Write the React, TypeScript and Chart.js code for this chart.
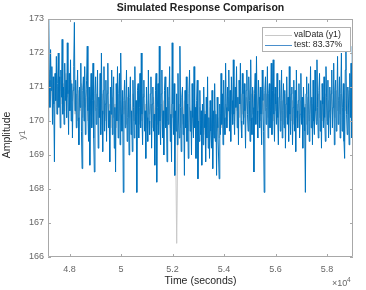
import React, { useEffect, useRef } from "react";
import { Chart, registerables } from "chart.js";

Chart.register(...registerables);

// valData sampled every 50 s, model output every 25 s, both from t = 47160 s
const timeStart = 47160;
const valStep = 50;
const testStep = 25;

const xTickValues = [48000, 50000, 52000, 54000, 56000, 58000];
const xTickLabels = ["4.8", "5", "5.2", "5.4", "5.6", "5.8"];
const yTickValues = [166, 167, 168, 169, 170, 171, 172, 173];

const seriesNames = ["valData (y1)", "test: 83.37%"];

const valData = [
  170.3, 171.5, 170.6, 171.2, 170.4, 170.9, 171.4, 170.2, 171.0, 170.6,
  171.3, 170.5, 171.1, 170.3, 171.4, 170.7, 170.9, 170.4, 171.2, 170.6,
  171.0, 170.2, 170.8, 170.0, 170.9, 170.3, 171.1, 170.1, 170.7, 170.4,
  170.9, 170.0, 170.7, 170.2, 171.0, 169.9, 170.6, 170.3, 170.8, 170.1,
  170.7, 169.9, 170.8, 170.2, 170.6, 170.0, 170.9, 170.3, 170.5, 169.8,
  170.7, 170.1, 170.5, 169.8, 170.8, 170.0, 170.6, 169.9, 170.7, 170.2,
  170.6, 169.9, 170.7, 170.1, 170.5, 169.8, 170.8, 170.0, 170.6, 170.2,
  170.7, 169.9, 170.6, 170.0, 170.8, 170.1, 170.5, 169.8, 170.6, 170.2,
  170.5, 169.8, 170.7, 170.0, 170.4, 169.9, 170.6, 170.1, 170.5, 169.7,
  170.6, 169.9, 170.4, 170.0, 170.7, 169.8, 170.5, 170.1, 170.4, 169.9,
  166.4, 170.0, 170.5, 169.8, 170.4, 169.9, 170.6, 170.0, 170.3, 169.7,
  170.4, 169.8, 170.3, 169.6, 170.5, 169.9, 170.2, 169.7, 170.4, 169.8,
  170.2, 169.6, 170.3, 169.7, 170.1, 169.5, 170.4, 169.8, 170.2, 169.6,
  170.3, 169.7, 170.1, 169.5, 170.2, 169.8, 170.4, 169.9, 170.5, 170.0,
  170.7, 170.1, 170.8, 170.2, 170.6, 170.0, 170.9, 170.3, 170.7, 170.1,
  170.8, 170.2, 170.9, 170.1, 170.7, 170.3, 170.9, 170.0, 170.8, 170.2,
  170.9, 170.1, 170.8, 170.3, 170.7, 170.0, 170.9, 170.2, 170.8, 170.3,
  170.8, 170.1, 170.9, 170.2, 170.7, 170.0, 170.8, 170.3, 170.6, 170.1,
  170.7, 170.0, 170.6, 169.9, 170.8, 170.1, 170.5, 169.9, 170.7, 170.0,
  170.6, 169.9, 170.7, 170.1, 170.5, 169.8, 170.6, 170.0, 170.7, 170.1,
  170.5, 169.9, 170.7, 170.0, 170.6, 170.1, 170.5, 169.8, 170.7, 170.0,
  170.8, 170.1, 170.6, 170.0, 170.7, 170.2, 170.8, 170.0, 170.6, 170.1,
  170.9, 170.2, 170.8, 170.1, 170.9, 170.3, 170.7, 170.2, 170.8, 170.3,
  170.9, 170.3, 171.0, 170.2, 170.9, 170.4, 171.0, 170.5,
];

const testData = [
  170.0, 173.0, 171.2, 170.4, 172.1, 170.9, 171.6, 169.9, 171.3, 170.5,
  168.8, 171.4, 170.6, 171.9, 170.2, 171.1, 172.0, 170.4, 171.3, 169.8,
  171.5, 170.7, 172.4, 170.2, 171.0, 169.9, 171.7, 170.6, 171.2, 170.1,
  172.3, 170.8, 169.6, 171.4, 170.3, 171.8, 170.0, 171.1, 169.5, 170.9,
  171.6, 172.9, 170.3, 171.2, 169.8, 170.8, 171.5, 170.1, 169.3, 171.0,
  170.4, 171.7, 169.7, 168.6, 170.9, 171.3, 170.0, 171.6, 169.6, 170.7,
  171.2, 172.2, 170.3, 169.4, 171.0, 168.7, 170.5, 171.4, 169.8, 170.6,
  171.7, 169.5, 168.5, 170.8, 171.3, 169.9, 170.4, 171.5, 169.2, 170.7,
  170.1, 171.4, 169.6, 172.0, 170.3, 169.1, 170.9, 171.6, 169.7, 170.5,
  171.2, 169.4, 170.8, 171.7, 169.8, 170.3, 168.8, 171.0, 170.2, 171.5,
  169.6, 170.7, 171.3, 169.2, 170.4, 168.5, 171.1, 170.0, 171.6, 169.5,
  170.8, 171.4, 169.3, 172.0, 170.2, 169.7, 170.9, 167.9, 170.6, 171.2,
  169.8, 170.5, 171.5, 169.4, 170.1, 171.0, 169.0, 170.7, 171.3, 169.6,
  170.3, 169.1, 171.2, 170.4, 169.5, 171.6, 169.9, 170.6, 167.9, 170.9,
  171.1, 169.5, 170.4, 171.4, 169.8, 172.0, 170.2, 169.3, 170.7, 171.2,
  169.7, 170.3, 168.9, 171.0, 170.1, 169.4, 171.5, 170.0, 169.6, 170.8,
  171.3, 169.2, 170.5, 171.0, 169.7, 170.2, 168.7, 170.9, 171.4, 168.2,
  170.4, 171.1, 169.6, 172.2, 170.0, 169.3, 170.8, 171.5, 169.5, 170.3,
  169.0, 170.9, 171.3, 169.8, 170.4, 168.8, 171.0, 169.9, 170.6, 171.6,
  169.4, 170.2, 168.8, 172.3, 170.5, 169.6, 171.1, 168.4, 170.3, 169.7,
  170.8, 169.3, 171.4, 170.0, 169.5, 172.2, 170.4, 169.1, 170.7, 171.0,
  169.6, 170.2, 168.4, 170.9, 169.8, 171.3, 169.4, 170.5, 168.9, 170.8,
  171.5, 169.7, 170.3, 169.0, 171.1, 170.1, 169.5, 171.6, 169.8, 170.4,
  168.9, 170.6, 171.2, 168.3, 170.0, 169.4, 170.9, 169.6, 170.3, 168.7,
  170.5, 169.3, 171.0, 169.8, 170.2, 168.8, 170.7, 169.5, 171.3, 169.2,
  170.1, 168.9, 170.6, 169.7, 169.2, 170.9, 168.6, 170.3, 169.5, 171.1,
  169.4, 170.2, 168.4, 170.7, 169.8, 169.0, 168.3, 170.5, 169.6, 171.4,
  169.9, 170.8, 169.3, 171.2, 170.1, 169.6, 171.7, 170.4, 169.8, 171.0,
  170.3, 171.5, 169.7, 170.9, 169.4, 171.3, 170.6, 169.9, 171.8, 170.2,
  169.6, 171.0, 170.4, 171.6, 169.8, 170.7, 169.3, 171.2, 170.5, 171.7,
  170.0, 169.5, 171.4, 170.8, 169.9, 171.1, 170.3, 169.2, 170.9, 171.5,
  170.2, 169.7, 171.3, 170.6, 169.4, 171.8, 170.1, 169.6, 171.0, 170.4,
  168.5, 170.8, 171.4, 169.9, 171.9, 170.3, 169.5, 171.2, 170.7, 169.8,
  171.0, 170.2, 169.3, 171.5, 170.6, 169.7, 167.9, 170.9, 171.3, 169.9,
  170.4, 171.6, 169.5, 170.8, 171.1, 169.8, 170.3, 171.7, 169.6, 170.9,
  171.8, 170.2, 169.4, 171.0, 170.5, 169.9, 171.4, 170.1, 169.3, 170.7,
  171.2, 169.7, 170.6, 171.5, 169.5, 170.3, 171.1, 169.8, 170.9, 169.2,
  170.5, 171.3, 169.9, 170.7, 169.4, 171.6, 170.2, 169.6, 170.8, 171.0,
  169.3, 170.4, 171.2, 169.7, 170.9, 169.1, 171.5, 170.3, 169.8, 170.6,
  171.1, 169.5, 170.2, 171.4, 169.9, 170.7, 169.2, 171.0, 170.4, 169.7,
  167.9, 170.8, 171.3, 169.6, 170.5, 171.1, 169.4, 170.2, 171.6, 169.8,
  170.7, 169.3, 171.2, 170.0, 169.6, 171.5, 170.3, 169.9, 171.8, 170.4,
  169.5, 170.9, 171.4, 169.7, 170.6, 169.2, 171.1, 170.5, 169.8, 171.3,
  170.1, 169.4, 171.6, 170.7, 169.9, 171.2, 169.5, 170.3, 171.0, 169.6,
  170.8, 171.5, 169.8, 170.4, 171.7, 169.3, 170.9, 171.2, 169.7, 170.5,
  171.9, 169.9, 170.6, 171.3, 169.5, 170.8, 172.0, 169.7, 170.4, 171.1,
  169.4, 168.9, 171.5, 172.1, 170.2, 169.6, 171.0, 170.5, 169.3, 171.4,
  170.1, 171.7, 169.5, 172.2, 170.6,
];

const FONT = "'Liberation Sans', Arial, Helvetica, sans-serif";
const GRAY_LINE = "#c8c8c8";
const BLUE_LINE = "#0072BD";
const AXIS_COLOR = "#a8a8a8";
const TICK_TEXT = "#666666";

const decoPlugin = {
  id: "deco",
  afterDraw(chart: any) {
    const { ctx, chartArea } = chart;
    const { left, right, top, bottom } = chartArea;
    const xs = chart.scales.x;
    const ys = chart.scales.y;
    ctx.save();
    ctx.strokeStyle = AXIS_COLOR;
    ctx.lineWidth = 1;
    ctx.beginPath();
    ctx.rect(left + 0.5, top + 0.5, right - left - 1, bottom - top - 1);
    ctx.stroke();
    const tl = 3;
    ctx.beginPath();
    xTickValues.forEach((v) => {
      const px = Math.round(xs.getPixelForValue(v)) + 0.5;
      ctx.moveTo(px, bottom);
      ctx.lineTo(px, bottom - tl);
      ctx.moveTo(px, top);
      ctx.lineTo(px, top + tl);
    });
    yTickValues.forEach((v) => {
      const py = Math.round(ys.getPixelForValue(v)) + 0.5;
      ctx.moveTo(left, py);
      ctx.lineTo(left + tl, py);
      ctx.moveTo(right, py);
      ctx.lineTo(right - tl, py);
    });
    ctx.stroke();

    ctx.fillStyle = "#222222";
    ctx.font = `bold 10.5px ${FONT}`;
    ctx.textAlign = "center";
    ctx.textBaseline = "middle";
    ctx.fillText("Simulated Response Comparison", (left + right) / 2, 8);

    ctx.font = `10.5px ${FONT}`;
    ctx.fillStyle = "#262626";
    ctx.fillText("Time (seconds)", (left + right) / 2, 281);

    ctx.fillStyle = TICK_TEXT;
    ctx.font = `9px ${FONT}`;
    ctx.textAlign = "left";
    ctx.fillText("\u00d710", 332, 284);
    ctx.font = `6.5px ${FONT}`;
    ctx.fillText("4", 347, 280);

    const cy = 135;
    ctx.save();
    ctx.translate(7, cy);
    ctx.rotate(-Math.PI / 2);
    ctx.textAlign = "center";
    ctx.fillStyle = "#262626";
    ctx.font = `10.5px ${FONT}`;
    ctx.fillText("Amplitude", 0, 0);
    ctx.restore();
    ctx.save();
    ctx.translate(23, cy);
    ctx.rotate(-Math.PI / 2);
    ctx.textAlign = "center";
    ctx.fillStyle = "#777777";
    ctx.font = `9px ${FONT}`;
    ctx.fillText("y1", 0, 0);
    ctx.restore();

    const lx = 262, lyTop = 27, lw = 89, lh = 25;
    ctx.fillStyle = "#ffffff";
    ctx.fillRect(lx, lyTop, lw, lh);
    ctx.strokeStyle = "#b0b0b0";
    ctx.strokeRect(lx + 0.5, lyTop + 0.5, lw - 1, lh - 1);
    const rows = [34.5, 45];
    const colors = [GRAY_LINE, "#4a8fcc"];
    ctx.font = `8.7px ${FONT}`;
    ctx.textAlign = "left";
    ctx.textBaseline = "middle";
    rows.forEach((ry, k) => {
      ctx.strokeStyle = colors[k];
      ctx.lineWidth = 1;
      ctx.beginPath();
      ctx.moveTo(265, Math.round(ry) + 0.5);
      ctx.lineTo(292, Math.round(ry) + 0.5);
      ctx.stroke();
      ctx.fillStyle = "#262626";
      ctx.fillText(seriesNames[k], 294, ry);
    });
    ctx.restore();
  },
};

export default function App() {
  const ref = useRef<HTMLCanvasElement | null>(null);
  useEffect(() => {
    document.body.style.margin = "0";
    document.body.style.overflow = "hidden";
    const canvas = ref.current;
    if (!canvas) return;
    const toPoints = (arr: number[], step: number) =>
      arr.map((v, i) => ({ x: timeStart + i * step, y: v }));
    const chart = new Chart(canvas, {
      type: "line",
      data: {
        datasets: [
          {
            label: seriesNames[0],
            data: toPoints(valData, valStep),
            borderColor: GRAY_LINE,
            borderWidth: 1,
            pointRadius: 0,
            tension: 0,
            fill: false,
            order: 2,
          },
          {
            label: seriesNames[1],
            data: toPoints(testData, testStep),
            borderColor: BLUE_LINE,
            borderWidth: 1,
            pointRadius: 0,
            tension: 0,
            fill: false,
            order: 1,
          },
        ],
      },
      options: {
        responsive: false,
        animation: false,
        events: [],
        layout: { padding: { top: 19, right: 13, left: 0, bottom: 0 } },
        plugins: {
          legend: { display: false },
          title: { display: false },
          tooltip: { enabled: false },
        },
        scales: {
          x: {
            type: "linear",
            min: 47160,
            max: 59010,
            afterBuildTicks: (scale: any) => {
              scale.ticks = xTickValues.map((v) => ({ value: v }));
            },
            afterFit: (scale: any) => {
              scale.height = 33;
            },
            grid: { display: false, drawTicks: false },
            border: { display: false },
            ticks: {
              autoSkip: false,
              maxRotation: 0,
              padding: 7,
              color: TICK_TEXT,
              font: { family: FONT, size: 9 },
              callback: (value: any) => {
                const idx = xTickValues.indexOf(Number(value));
                return idx >= 0 ? xTickLabels[idx] : "";
              },
            },
          },
          y: {
            type: "linear",
            min: 166,
            max: 173,
            afterBuildTicks: (scale: any) => {
              scale.ticks = yTickValues.map((v) => ({ value: v }));
            },
            afterFit: (scale: any) => {
              scale.width = 48;
            },
            grid: { display: false, drawTicks: false },
            border: { display: false },
            ticks: {
              autoSkip: false,
              padding: 4,
              color: TICK_TEXT,
              font: { family: FONT, size: 9 },
              callback: (value: any) => String(value),
            },
          },
        },
      },
      plugins: [decoPlugin],
    });
    return () => chart.destroy();
  }, []);
  return (
    <div style={{ width: 366, height: 290 }}>
      <canvas ref={ref} width={366} height={290} />
    </div>
  );
}
